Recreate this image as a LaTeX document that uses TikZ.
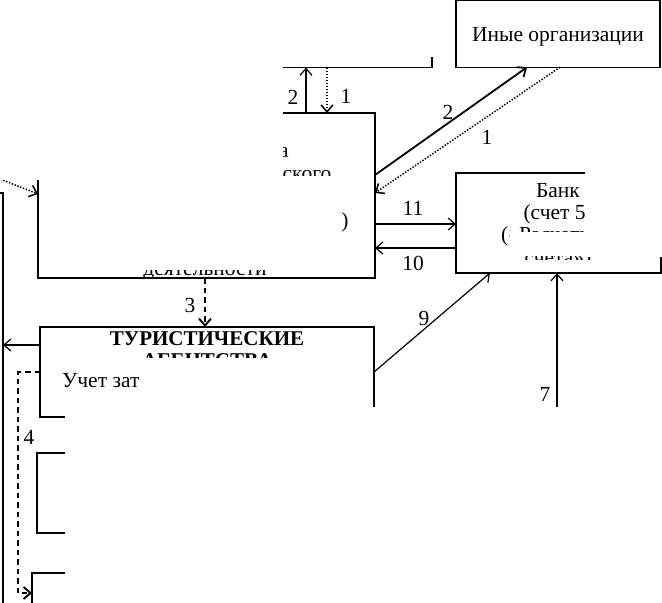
\documentclass[tikz,border=0pt]{standalone}
\usepackage{fontspec}
\setmainfont{Liberation Serif}
\usetikzlibrary{arrows.meta,calc}
\begin{document}
\begin{tikzpicture}[x=1pt,y=-1pt,
  >={Straight Barb[length=7pt,width=12pt]},
  box/.style={draw, line width=1.3pt, rectangle, inner sep=0pt, outer sep=0pt, anchor=north west},
  conn/.style={line width=1.2pt},
  thickconn/.style={line width=1.8pt},
  dotconn/.style={line width=1.5pt, dash pattern=on 1.4pt off 1.6pt},
  dashconn/.style={line width=1.9pt, dash pattern=on 5.5pt off 4pt},
  lbl/.style={font=\fontsize{21.5}{24}\selectfont, inner sep=0pt},
  txt/.style={font=\fontsize{21.5}{24}\selectfont, inner sep=0pt, anchor=base},
  btxt/.style={font=\fontsize{21}{24}\selectfont\bfseries, inner sep=0pt, anchor=base},
  hide/.style={fill=white}
]
\useasboundingbox (0,0) rectangle (662,603);
\clip (0,0) rectangle (662,603);
\fill[white] (0,0) rectangle (662,603);

% boxes
\node[box, minimum width=204pt, minimum height=66.5pt] (ino) at (456,0.7) {};
\node[box, minimum width=282pt, minimum height=57.5pt] (topbox) at (150,10) {};
\node[box, minimum width=337pt, minimum height=165pt] (cen) at (38,113) {};
\node[box, minimum width=205pt, minimum height=100pt] (bank) at (456,173) {};
\node[box, minimum width=334pt, minimum height=90pt] (tour) at (40,327) {};
\node[box, minimum width=337pt, minimum height=80pt] (boxa) at (37,453) {};
\node[box, minimum width=342pt, minimum height=60pt] (boxb) at (32,573) {};

% texts (partly covered below)
\node[txt] (tino) at (558,41) {Иные организации};
\node[txt] (tb1) at (558,197) {Банк};
\node[txt] (tb2) at (560,219) {(счет 51};
\node[txt] (tb3) at (558,241) {(«Расчетные};
\node[txt] (tb4) at (558,264) {счета»)};
\node[txt, anchor=base west] (tc0) at (279,157) {а};
\node[txt] (tc1) at (307,180) {ского};
\node[txt] (tc2) at (345,227) {)};
\node[txt] (tc3) at (205,275) {деятельности};
\node[btxt] (tt1) at (207,345) {ТУРИСТИЧЕСКИЕ};
\node[btxt] (tt2) at (207,367) {АГЕНТСТВА};

% connectors
\draw[conn,->] (cen.north -| 306,0) -- (topbox.south -| 306,0);
\node[lbl] (l2a) at (293,97) {2};
\draw[dotconn,->] (topbox.south -| 327,0) -- (cen.north -| 327,0);
\node[lbl] (l1a) at (346,96) {1};

\draw[thickconn,->] (cen.east |- 0,175) -- (ino.south -| 527,0);
\node[lbl] (l2b) at (448,112) {2};
\draw[dotconn,->] (ino.south -| 560,0) -- (cen.east |- 0,193);
\node[lbl] (l1b) at (487,137) {1};

\draw[conn,->] (cen.east |- 0,224) -- (bank.west |- 0,224);
\node[lbl] (l11) at (413,208) {11};
\draw[conn,->] (bank.west |- 0,248) -- (cen.east |- 0,248);
\node[lbl] (l10) at (413,263) {10};

\draw[dashconn,->] (cen.south -| 205,0) -- (tour.north -| 205,0);
\node[lbl] (l3) at (190,305) {3};

\draw[conn,->] (tour.east |- 0,372) -- (bank.south -| 490,0);
\node[lbl] (l9) at (424,318) {9};

\coordinate (src7) at (557,430);
\draw[conn,->] (src7) -- (bank.south -| 557,0);
\node[lbl] (l7) at (545,394) {7};

\coordinate (ltop) at (-10,193);
\coordinate (lbot) at (3,615);
\draw[conn] (ltop) -| (lbot);
\coordinate (lmid) at (3,345);
\draw[conn,->] (tour.west |- 0,345) -- (lmid);

\coordinate (dsrc) at (-5,177);
\draw[dotconn,->] (dsrc) -- (cen.west |- 0,194);

\coordinate (d4a) at (18,372);
\coordinate (d4b) at (18,593);
\draw[dashconn,->] (tour.west |- 0,372) -- (d4a) -- (d4b) -- (boxb.west |- 0,593);
\node[lbl] (l4) at (29,437) {4};

% covered areas
\fill[hide] (0,0) rectangle (446,57);
\fill[hide] (0,0) rectangle (283,180);
\fill[hide] (66,176) rectangle (342,270);
\fill[hide] (58,358) -- (348,358) -- (348,407) -- (147,407) -- (147,372) -- (58,372) -- cycle;
\fill[hide] (65,407) rectangle (662,603);
\fill[hide] (585,150) rectangle (662,257);
\fill[hide] (510,232) rectangle (585,256);
\fill[hide] (505,260) rectangle (600,271);

% fully visible text on top
\node[txt, anchor=base west] (tt3) at (62,387) {Учет зат};
\end{tikzpicture}
\end{document}
